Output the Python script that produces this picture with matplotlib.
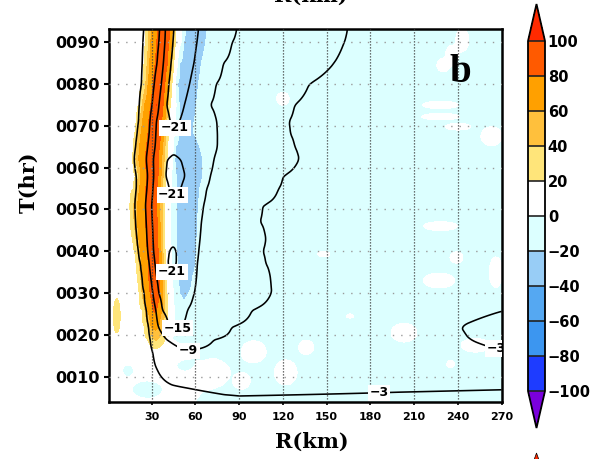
import numpy as np
import matplotlib
matplotlib.use('Agg')
import matplotlib.pyplot as plt
from matplotlib.colors import ListedColormap, BoundaryNorm
from matplotlib.patches import Polygon

nan = np.nan

t_rows = [4, 8, 12, 16, 19, 22, 26, 30, 34, 37, 40, 43, 47, 51, 55, 58, 62, 65, 68, 71, 75, 80, 85, 90, 93]

# contour field: radius (km) where each level is crossed, inner / outer side of the core
f_m3_in = [nan, 44, 33.5, 31, 29.5, 28.5, 27, 25.5, 24, 23, 21.5, 20.5, 19.5, 19, 20, 20, 18.5, 19.5, 20.5, 21.5, 22, 23.5, 24, 24.5, 25]
f_m9_in = [nan, nan, nan, nan, 40, 34.5, 33, 31, 29.5, 28.5, 27.5, 27, 26.5, 26, 27, 27.5, 26.5, 27.5, 28.5, 29, 30.5, 32, 34, 35.3, 35.8]
f_m15_in = [nan, nan, nan, nan, nan, 42, 37, 34.5, 33, 32, 31, 30.5, 30, 29.5, 30.5, 31.2, 31, 32, 32.5, 33, 35, 36.6, 38, 39, 39.3]
f_m21_in = [nan, nan, nan, nan, nan, nan, nan, nan, nan, 41, 42, nan, nan, nan, 42, 39.5, 40.5, nan, nan, 42.5, 40, 41.5, 43, 44.3, 44.9]
f_core_r = [90, 80, 58, 54, 50, 46, 45, 45, 44, 44, 44.5, 45, 45, 45, 46, 46, 45, 45, 46, 46.5, 46, 48, 50, 52, 53]
f_core_v = [-2.4, -4.2, -7, -8.8, -12.5, -15.8, -18, -19.2, -20.8, -22, -21.8, -20, -19.5, -20, -22.5, -23, -22, -19.5, -20.5, -21.8, -23, -24, -24, -24, -24]
f_m21_out = [nan, nan, nan, nan, nan, nan, nan, nan, nan, 47, 47, nan, nan, nan, 50, 53, 50, nan, nan, 49, 52.5, 56, 59, 61, 62]
f_m15_out = [nan, nan, nan, nan, nan, 51, 54.5, 59, 60.5, 61, 62, 63, 64, 65.5, 67.5, 70, 72.5, 75, 75, 74.5, 70, 74, 79, 85, 88]
f_m9_out = [nan, nan, nan, nan, 73, 85, 99, 112, 111, 108, 106, 108, 104, 106, 117, 120, 131, 128, 125, 124, 128, 138, 155, 162, 164]
f_r200 = [-2.2, -3.6, -4.5, -4.5, -4.5, -4.5, -5, -5.5, -5.5, -5.5, -5.5, -5.5, -5.5, -5.5, -5.5, -5.5, -5.5, -5.5, -5.5, -5.5, -5.5, -5.8, -6.5, -7.5, -7.8]
f_r270 = [-2.0, -3.4, -3.9, -3.1, -2.3, -2.0, -3.1, -4.5, -5, -5, -5, -5, -5, -5, -5, -5, -5, -5, -5, -5, -5, -5, -5.5, -6, -6]

# shaded field: warm core (20 / 60 / 80 crossings) and blue band (-20 crossings) per row
s_r0 = [3, 3, 3, 3, 6, 6, 6, 6, 6, 6, 6, 6, 6, 6, 6, 6, 6, 6, 6, 6, 6, 6, 6, 6, 6]
s_in = [nan, nan, nan, nan, 27.5, 25.5, 24, 22, 21, 20, 19, 17.5, 16, 15.5, 18, 19.5, 17.5, 18, 19, 20, 22, 24.5, 25.5, 26.5, 26.6]
s_in60 = [nan, nan, nan, nan, nan, 29.5, 27, 25, 24, 23, 22, 21, 20, 19.8, 21.5, 22.5, 21, 21.5, 22.5, 23.5, 25, 27.5, 28.5, 29.3, 29.6]
s_in80 = [nan, nan, nan, nan, nan, nan, 31, 29, 28, 27.8, 27, 26.6, 26, 25.5, 26, 26.6, 25.5, 26.5, 27.5, 28, 29.5, 31, 32.5, 33.5, 34.2]
s_pk = [40, 40, 32, 31, 33, 32.5, 32, 32.5, 31.5, 31.5, 31, 30.5, 30, 29.5, 30, 30.5, 30, 31, 32, 32.5, 33.5, 35, 37, 38, 38.5]
s_max = [2, 3, 6, 14, 45, 68, 83, 96, 100, 100, 98, 98, 98, 96, 94, 96, 98, 98, 100, 100, 102, 100, 98, 96, 96]
s_out80 = [nan, nan, nan, nan, nan, nan, 33.5, 35.8, 35.5, 35.1, 34.7, 34.2, 34, 33.5, 34, 34.6, 34.6, 35.5, 36.5, 37, 38, 39.2, 41, 42, 42.6]
s_out60 = [nan, nan, nan, nan, nan, 35, 37, 37.5, 37.2, 37, 36.5, 36, 35.8, 35.8, 36.2, 36.5, 37, 37.5, 38.5, 39.2, 40, 41, 42.5, 43.8, 44.2]
s_out = [nan, nan, nan, nan, 39.2, 40.5, 41, 40.3, 40, 39.2, 39, 38.7, 38.7, 38.7, 39, 39.2, 40.3, 40.8, 41.2, 41.5, 42.5, 43.8, 45, 46, 46.5]
w_out = [60, 70, 66, 60, 44, 45, 45.5, 44.8, 44.5, 43.7, 43.5, 43.2, 43.2, 43.2, 43.5, 43.7, 44.8, 45.3, 45.7, 46, 47, 46.5, 48, 50.5, 51]
b_in = [nan] * 7 + [49, 48, 47.5, 47, 47, 47, 47, 47, 46.5, 45.5, 46, 48.5, 49.5, 48.5, 47.5, 49, 51.5, 53]
b_pk = [100, 100, 100, 90, 60, 55, 52, 52, 53, 53.5, 54, 54, 54, 54.5, 55, 55.5, 55, 54.5, 54, 54, 54.5, 55, 56.5, 59, 60.5]
b_min = [-6, -6, -6, -7, -9, -11, -15, -24, -32, -33, -32, -31, -30, -30, -30, -32, -33, -30, -24, -25, -31, -32, -32, -32, -32]
b_out = [nan] * 7 + [55.5, 58, 60, 60.5, 61, 61.5, 62, 63, 65, 65, 63, 59, 59, 60.5, 62, 64, 67, 68]

# patches in the shaded field: centre R, centre T, half sizes, amplitude
blob_r = [120, 243, 236, 230, 228, 228, 240, 263, 228, 239, 227, 203, 148, 166, 252, 235,
          100, 122, 92, 136, 70, 266, 6, 14, 27, 54, 64]
blob_t = [76.5, 90.5, 87, 84.5, 75, 72.2, 69.8, 67.5, 46, 38.5, 33, 20.5, 39.3, 24.5, 17.5, 13,
          16, 11, 9, 17, 11, 35, 24.5, 11.5, 7, 12.7, 14.7]
blob_dr = [5, 5, 5, 5, 14, 15, 10, 8, 13, 5, 12, 10, 5, 3, 11, 3,
           10, 9, 6, 6, 13, 5, 2.5, 4, 10, 7, 6]
blob_dt = [1.8, 3.0, 2.5, 1.8, 1.0, 0.9, 0.9, 2.5, 1.2, 1.5, 2.0, 2.5, 0.8, 0.6, 1.8, 1.0,
           3, 3.5, 2, 2, 3, 4, 4.5, 1.5, 2, 1.3, 0.8]
blob_amp = [12] * 22 + [22, -9, -9, -9, -9]

levels = [-100, -80, -60, -40, -20, 0, 20, 40, 60, 80, 100]
fill_colors = ['#1e3cff', '#3c96f0', '#55a8f2', '#98cdf6', '#dcffff',
               '#ffffff', '#ffe57a', '#ffc03c', '#ffa000', '#ff5a00']
line_levels = [-21, -15, -9, -3]
label_spots = [(46, 69.3), (43.7, 53.4), (43, 34.7), (47.8, 21.3), (55.3, 16.3), (186, 5.8), (266, 16.8)]
x_ticks = [30, 60, 90, 120, 150, 180, 210, 240, 270]
y_ticks = [10, 20, 30, 40, 50, 60, 70, 80, 90]

r_grid = np.arange(0, 270.01, 0.5)
t_grid = np.arange(3.0, 94.01, 0.25)


def profile(pairs):
    pairs = sorted((r, v) for r, v in pairs if not np.isnan(r))
    rr = [p[0] for p in pairs]
    vv = [p[1] for p in pairs]
    return np.interp(r_grid, rr, vv)


def to_grid(rows):
    rows = np.array(rows)
    return np.array([np.interp(t_grid, t_rows, rows[:, j]) for j in range(len(r_grid))]).T


def smooth(z, nt, nr):
    zp = np.pad(z, ((nt // 2, nt // 2), (nr // 2, nr // 2)), mode='edge')
    kt = np.ones(nt) / nt
    kr = np.ones(nr) / nr
    zp = np.apply_along_axis(lambda c: np.convolve(c, kt, mode='valid'), 0, zp)
    zp = np.apply_along_axis(lambda c: np.convolve(c, kr, mode='valid'), 1, zp)
    return zp


f_rows = []
s_rows = []
for i in range(len(t_rows)):
    f_rows.append(profile([(0, 0), (f_m3_in[i], -3), (f_m9_in[i], -9), (f_m15_in[i], -15),
                           (f_m21_in[i], -21), (f_core_r[i], f_core_v[i]), (f_m21_out[i], -21),
                           (f_m15_out[i], -15), (f_m9_out[i], -9), (200, f_r200[i]), (270, f_r270[i])]))
    s_rows.append(profile([(0, s_r0[i]), (s_in[i], 20), (s_in60[i], 60), (s_in80[i], 80),
                           (s_pk[i], s_max[i]), (s_out80[i], 80), (s_out60[i], 60), (s_out[i], 20),
                           (w_out[i], 0), (b_in[i], -20), (b_pk[i], b_min[i]), (b_out[i], -20),
                           (b_pk[i] + 20, -7), (270, -6)]))

F = smooth(to_grid(f_rows), 7, 5)
S = to_grid(s_rows)
RR, TT = np.meshgrid(r_grid, t_grid)
for r0, t0, dr, dt, a in zip(blob_r, blob_t, blob_dr, blob_dt, blob_amp):
    d2 = ((RR - r0) / dr) ** 2 + ((TT - t0) / dt) ** 2
    S = S + a * np.exp(-d2 ** 2)
S = smooth(S, 3, 3)

cmap = ListedColormap(fill_colors)
cmap.set_under('#7a00dc')
cmap.set_over('#ff2a00')
norm = BoundaryNorm(levels, cmap.N)

fig = plt.figure(figsize=(5.94, 4.59), dpi=100)
ax = fig.add_axes([0.184, 0.1248, 0.6606, 0.8114])

cf = ax.contourf(r_grid, t_grid, S, levels=levels, cmap=cmap, norm=norm, extend='both')
cs = ax.contour(r_grid, t_grid, F, levels=line_levels, colors='k', linewidths=1.15,
                linestyles='solid')


def fmt(v):
    return '\u2212%d' % abs(int(round(v)))


txts = ax.clabel(cs, manual=label_spots, inline=False, fmt=fmt, fontsize=9)
for t in txts:
    t.set_rotation(0)
    t.set_fontweight('bold')
    t.set_bbox(dict(facecolor='white', edgecolor='none', pad=1.2))
    t.set_clip_on(True)

ax.set_xlim(1.0, 270)
ax.set_ylim(4, 93.1)
ax.set_xticks(x_ticks)
ax.set_yticks(y_ticks)
ax.set_yticklabels(['%04d' % v for v in y_ticks])
ax.set_axisbelow(False)
ax.xaxis.grid(True, color='#444444', linestyle=(0, (1, 1.4)), linewidth=0.9)
ax.yaxis.grid(True, color='#9a9a9a', linestyle=(0, (1, 5)), linewidth=1.0)
ax.tick_params(axis='y', direction='out', length=3.6, width=1.5, pad=3, labelsize=11.5)
ax.tick_params(axis='x', direction='out', length=2.5, width=1.2, pad=5, labelsize=8)
for lab in ax.get_xticklabels() + ax.get_yticklabels():
    lab.set_fontweight('bold')
for sp in ax.spines.values():
    sp.set_linewidth(1.8)

ax.text(0.895, 0.858, 'b', transform=ax.transAxes, ha='center', va='baseline',
        fontsize=28, fontweight='bold', family='Liberation Serif')

fig.text(28.5 / 594, 1 - 182 / 459, 'T(hr)', rotation=90, ha='center', va='center',
         fontsize=15, fontweight='bold', family='DejaVu Serif')
fig.text(312 / 594, 1 - 442 / 459, 'R(km)', ha='center', va='center',
         fontsize=15, fontweight='bold', family='DejaVu Serif')
# title of the panel above, cut off by the crop
fig.text(311 / 594, 1 - 2 / 459, 'R(km)', ha='center', va='baseline',
         fontsize=15, fontweight='bold', family='DejaVu Serif')

cax = fig.add_axes([528 / 594, 0.0675, 17 / 594, 0.9237])
cb = fig.colorbar(cf, cax=cax, ticks=levels, drawedges=True, extendfrac=0.1057)
cb.outline.set_linewidth(1.3)
cb.dividers.set_color('#222222')
cb.dividers.set_linewidth(1.2)
cax.tick_params(length=0, pad=2, labelsize=10.5)
for lab in cax.get_yticklabels():
    lab.set_fontweight('bold')

# tip of the next panel's colour bar, visible at the bottom edge
tip = Polygon([(536.5 / 594, 1 - 453 / 459), (531 / 594, -0.02), (542 / 594, -0.02)],
              closed=True, transform=fig.transFigure, facecolor='#ff2a00',
              edgecolor='k', linewidth=0.5)
fig.patches.append(tip)

fig.savefig('out.png', dpi=100)
